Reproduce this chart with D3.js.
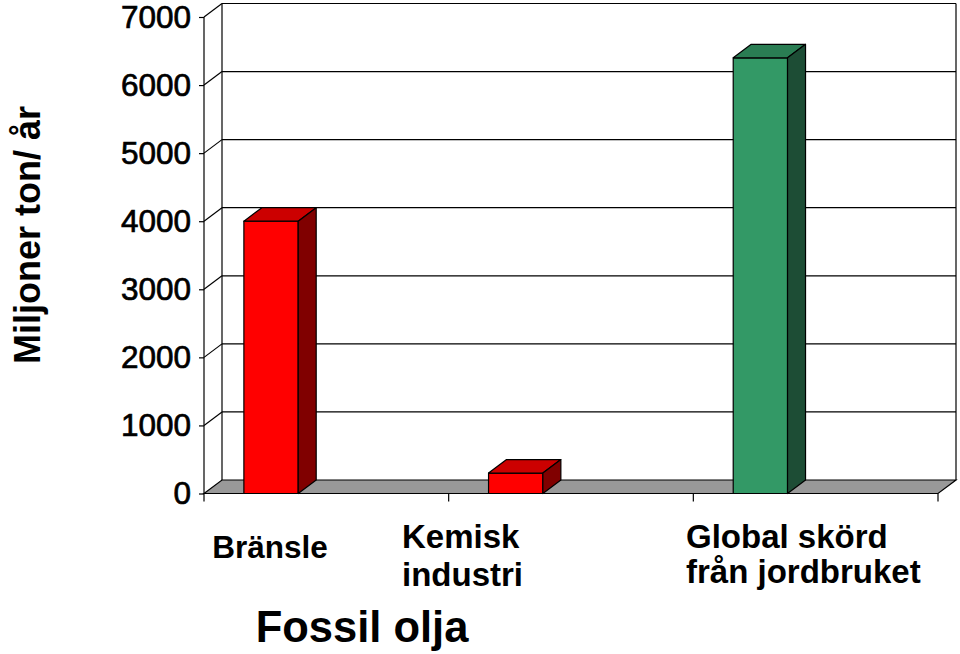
<!DOCTYPE html>
<html>
<head>
<meta charset="utf-8">
<script src="https://cdn.jsdelivr.net/npm/d3@7"></script>
<style>
  html, body { margin: 0; padding: 0; background: #fff; }
  svg { display: block; font-family: "Liberation Sans", Arial, sans-serif; }
</style>
</head>
<body>
<svg id="chart" width="960" height="654"></svg>
<script>
// ---- data ----
const categories = ["Bränsle", "Kemisk industri", "Global skörd från jordbruket"];
const categoryLines = [["Bränsle"], ["Kemisk", "industri"], ["Global skörd", "från jordbruket"]];
const values = [4000, 300, 6400];
const yTicks = [0, 1000, 2000, 3000, 4000, 5000, 6000, 7000];
const yTitle = "Miljoner ton/ år";
const groupLabel = "Fossil olja";

// ---- styles / layout ----
const faceColors = ["#ff0000", "#ff0000", "#339966"];
const topColors = ["#cc0000", "#cc0000", "#2a7d53"];
const sideColors = ["#800000", "#800000", "#1d4d35"];
const DX = 18, DY = 13.5;

const svg = d3.select("#chart");
const x = d3.scaleBand().domain(categories).range([204, 938]).padding(0);
const y = d3.scaleLinear().domain([0, 7000]).range([493.5, 17]);
const bw = x.bandwidth();

// back wall lines + gridlines
const g = svg.append("g").attr("stroke", "#000").attr("stroke-width", 1.2).attr("fill", "none");
yTicks.forEach(t => {
  if (t === 0) return;
  g.append("line").attr("x1", 204 + DX).attr("x2", 938 + DX)
    .attr("y1", y(t) - DY).attr("y2", y(t) - DY);
  g.append("line").attr("x1", 204).attr("x2", 204 + DX)
    .attr("y1", y(t)).attr("y2", y(t) - DY);
});
g.append("line").attr("x1", 204 + DX).attr("x2", 204 + DX).attr("y1", y(7000) - DY).attr("y2", y(0) - DY);
g.append("line").attr("x1", 938 + DX).attr("x2", 938 + DX).attr("y1", y(7000) - DY).attr("y2", y(0) - DY);

// floor
svg.append("path")
  .attr("d", `M204,${y(0)}L${204 + DX},${y(0) - DY}L${938 + DX},${y(0) - DY}L938,${y(0)}Z`)
  .attr("fill", "#999999").attr("stroke", "#000").attr("stroke-width", 1.2);

// y axis
const yAxis = d3.axisLeft(y).tickValues(yTicks).tickSize(5).tickPadding(8).tickFormat(d3.format("d"));
const ya = svg.append("g").attr("transform", "translate(204,0)").call(yAxis);
ya.select(".domain").attr("stroke", "#000").attr("stroke-width", 1.2).attr("d", `M0,${y(7000)}V${y(0)}`);
ya.selectAll(".tick line").attr("stroke", "#000").attr("stroke-width", 1.2);
ya.selectAll(".tick text").attr("font-size", 31.5).attr("fill", "#000")
  .attr("stroke", "#000").attr("stroke-width", 0.7)
  .attr("font-family", "Liberation Sans, Arial, sans-serif");

// category ticks
const boundaries = categories.map(c => x(c)).concat([938]);
svg.append("g").selectAll("line").data(boundaries).join("line")
  .attr("x1", d => d).attr("x2", d => d).attr("y1", y(0)).attr("y2", y(0) + 8)
  .attr("stroke", "#000").attr("stroke-width", 1.2);

// bars
const bars = svg.append("g").attr("stroke", "#000").attr("stroke-width", 1.2).attr("stroke-linejoin", "round");
categories.forEach((c, i) => {
  const x0 = x(c) + bw * 0.163, x1 = x0 + bw * 0.222;
  const yt = y(values[i]), yb = y(0);
  bars.append("rect").attr("x", x0).attr("y", yt).attr("width", x1 - x0).attr("height", yb - yt)
    .attr("fill", faceColors[i]);
  bars.append("path").attr("d", `M${x0},${yt}L${x0 + DX},${yt - DY}L${x1 + DX},${yt - DY}L${x1},${yt}Z`)
    .attr("fill", topColors[i]);
  bars.append("path").attr("d", `M${x1},${yt}L${x1 + DX},${yt - DY}L${x1 + DX},${yb - DY}L${x1},${yb}Z`)
    .attr("fill", sideColors[i]);
});

// category labels
const labelPos = [
  {x: 270, anchor: "middle", y: 558, size: 31.5, gap: 0},
  {x: 402, anchor: "start", y: 548, size: 33, gap: 38},
  {x: 686, anchor: "start", y: 548, size: 33, gap: 35}
];
categoryLines.forEach((lines, i) => {
  const p = labelPos[i];
  const t = svg.append("text").attr("x", p.x).attr("y", p.y)
    .attr("text-anchor", p.anchor).attr("font-size", p.size).attr("font-weight", "bold").attr("fill", "#000");
  lines.forEach((ln, j) => {
    t.append("tspan").attr("x", p.x).attr("dy", j === 0 ? 0 : p.gap).text(ln);
  });
});

// group label
svg.append("text").attr("x", 362).attr("y", 642).attr("text-anchor", "middle")
  .attr("font-size", 43.5).attr("font-weight", "bold").attr("fill", "#000").text(groupLabel);

// y title
svg.append("text").attr("transform", "translate(40,235) rotate(-90)").attr("text-anchor", "middle")
  .attr("font-size", 36).attr("font-weight", "bold").attr("fill", "#000").text(yTitle);
</script>
</body>
</html>
